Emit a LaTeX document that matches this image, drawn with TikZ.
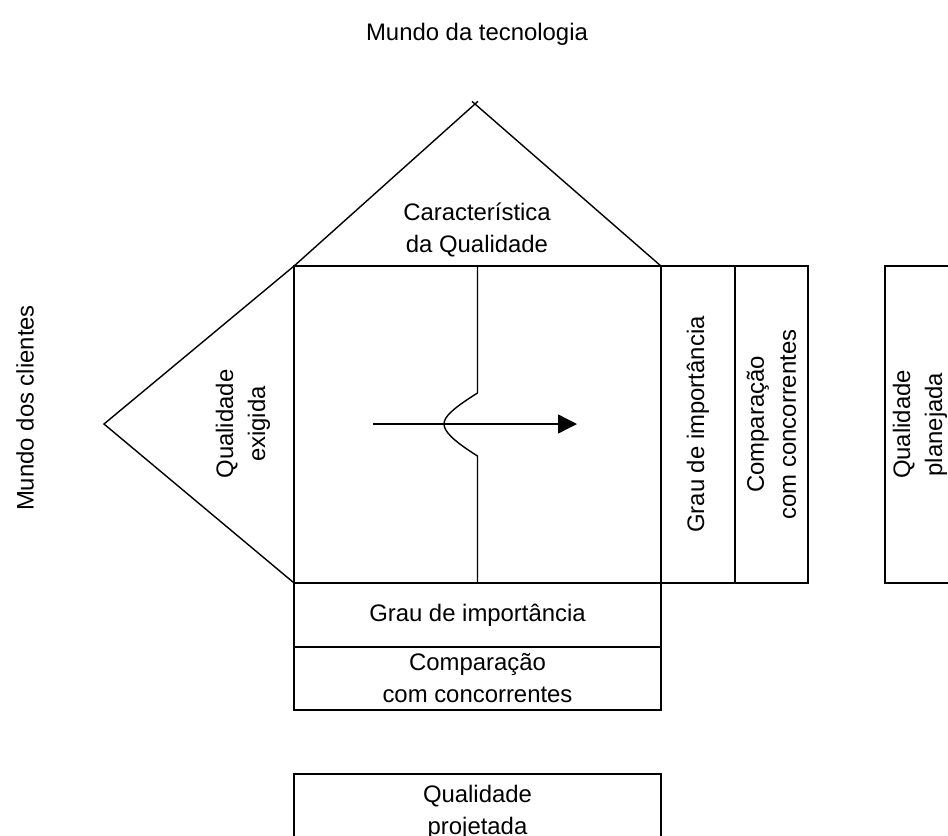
\documentclass[tikz,border=0pt]{standalone}
\usepackage{fontspec}
\setmainfont{Liberation Sans}
\usetikzlibrary{positioning,arrows.meta}

\tikzset{
  cell/.style={draw, rectangle, inner sep=0pt, outer sep=0pt},
  txt/.style={align=center, inner sep=0pt},
}

\begin{document}
\begin{tikzpicture}[x=0.02cm, y=-0.02cm, line width=0.8pt,
    font=\fontsize{13.6}{18.2}\selectfont]
  \useasboundingbox (0,0) rectangle (948,836);
  \clip (0,0) rectangle (948,836);

  % the relationship matrix and the rooms around it
  \node[cell, minimum width=7.34cm, minimum height=6.34cm] (rel) at (477.5,424.5) {};
  \node[cell, minimum width=1.48cm, minimum height=6.34cm, right=0pt of rel] (colimp) {};
  \node[cell, minimum width=1.46cm, minimum height=6.34cm, right=0pt of colimp] (colcomp) {};
  \node[cell, minimum width=1.4cm, minimum height=6.34cm, right=1.54cm of colcomp] (plan) {};
  \node[cell, minimum width=7.34cm, minimum height=1.28cm, below=0pt of rel] (rowimp) {Grau de importância};
  \node[cell, minimum width=7.34cm, minimum height=1.26cm, below=0pt of rowimp, align=center] (rowcomp) {Comparação\\com concorrentes};
  \node[cell, minimum width=7.34cm, minimum height=1.52cm, below=1.28cm of rowcomp, align=center] (proj) {Qualidade\\projetada};
  \draw[line width=1.6pt] (rel.south west) -- (rel.north west) -- (rel.north east);

  % roof and left wing
  \coordinate (top) at (475,104);
  \coordinate (wing) at (104,424);
  \draw[shorten >=-0.08cm] (rel.north west) -- (top);
  \draw[shorten >=-0.08cm] (rel.north east) -- (top);
  \draw (rel.north west) -- (wing) -- (rel.south west);

  % split line with the arrow through it
  \draw (rel.north) -- (477.5,393) .. controls (452,409) and (444,417) .. (444,424)
    .. controls (444,431) and (452,440) .. (477.5,456) -- (rel.south);
  \coordinate (arrstart) at (373,424);
  \coordinate (arrend) at (577,424);
  \draw[-{Triangle[length=0.38cm,width=0.38cm]}] (arrstart) -- (arrend);

  % texts
  \node[txt] (roofcap) at (477,230) {Característica\\da Qualidade};
  \node[txt, rotate=90] (wingcap) at (243,424) {Qualidade\\exigida};
  \node[txt, rotate=90] (impcap) at (colimp) {Grau de importância};
  \node[txt, rotate=90] (compcap) at (colcomp) {Comparação\\com concorrentes};
  \node[txt, rotate=90] (plancap) at (plan) {Qualidade\\planejada};
  \node[txt] (techworld) at (477,34) {Mundo da tecnologia};
  \node[txt, rotate=90] (custworld) at (25,408) {Mundo dos clientes};
\end{tikzpicture}
\end{document}
